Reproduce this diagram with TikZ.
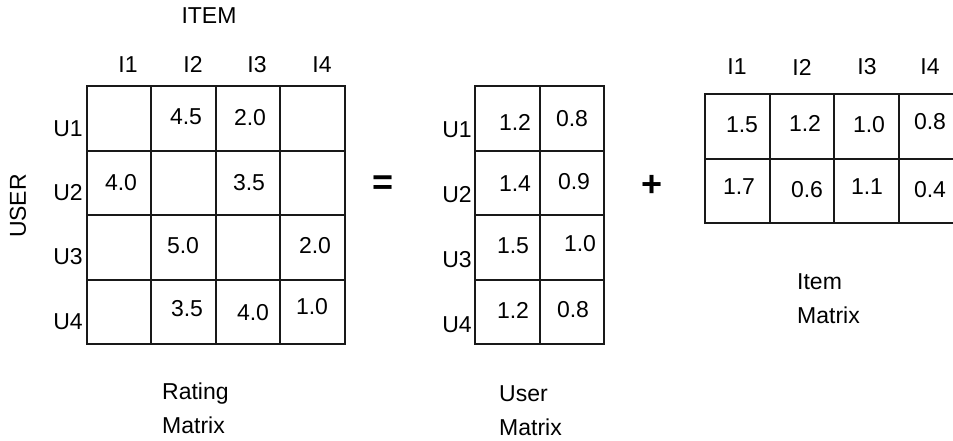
\documentclass[tikz,border=0pt]{standalone}
\usepackage{fontspec}
\setmainfont{Liberation Sans}
\begin{document}
\begin{tikzpicture}[x=1pt,y=-1pt,
  cell/.style={draw=black!90,line width=2pt,minimum size=64.6pt,inner sep=0pt},
  txt/.style={font=\fontsize{23}{34}\selectfont,inner sep=0pt},
  sym/.style={font=\fontsize{36}{40}\selectfont\bfseries,inner sep=0pt}]
\useasboundingbox (0,0) rectangle (953,441);
%\draw[help lines] (0,0) grid (953,441);
% rating matrix
\foreach \r in {1,...,4}
  \foreach \c in {1,...,4}
    \node[cell] (R\r\c) at ({86.5+64.6*(\c-0.5)},{86+64.6*(\r-0.5)}) {};
\node[txt] (item) at (209,15.5) {ITEM};
\node[txt,rotate=90] (user) at (18,206) {USER};
\foreach \c/\x in {1/128,2/193,3/257,4/322}
  \node[txt] (RI\c) at (\x,64.5) {I\c};
\foreach \r/\y in {1/128.5,2/193,3/257,4/322}
  \node[txt] (RU\r) at (68,\y) {U\r};
\node[txt] (r12) at (186,117) {4.5};
\node[txt] (r13) at (250,118) {2.0};
\node[txt] (r21) at (121,183) {4.0};
\node[txt] (r23) at (249,183) {3.5};
\node[txt] (r32) at (183,246) {5.0};
\node[txt] (r34) at (315,246) {2.0};
\node[txt] (r42) at (187,309) {3.5};
\node[txt] (r43) at (253,313) {4.0};
\node[txt] (r44) at (312,307) {1.0};
\node[txt,anchor=north west,align=left] (rcap) at (162,383) {Rating\\Matrix};
\node[sym] (eq) at (382.7,184.7) {=};
% user matrix
\foreach \r in {1,...,4}
  \foreach \c in {1,2}
    \node[cell] (U\r\c) at ({475+64.6*(\c-0.5)},{86+64.6*(\r-0.5)}) {};
\foreach \r/\y in {1/130,2/195,3/260,4/325}
  \node[txt] (UU\r) at (457,\y) {U\r};
\node[txt] (u11) at (515,122) {1.2};
\node[txt] (u12) at (572,119) {0.8};
\node[txt] (u21) at (515,184) {1.4};
\node[txt] (u22) at (574,182) {0.9};
\node[txt] (u31) at (513,246) {1.5};
\node[txt] (u32) at (580,244) {1.0};
\node[txt] (u41) at (513,310) {1.2};
\node[txt] (u42) at (573,310) {0.8};
\node[txt,anchor=north west,align=left] (ucap) at (499,385) {User\\Matrix};
\node[sym] (plus) at (652,186) {+};
% item matrix
\foreach \r in {1,2}
  \foreach \c in {1,...,4}
    \node[cell] (I\r\c) at ({705+64.6*(\c-0.5)},{94+64.6*(\r-0.5)}) {};
\foreach \c/\x in {1/737,2/802,3/867,4/930}
  \node[txt] (II\c) at (\x,67) {I\c};
\node[txt] (i11) at (742,125) {1.5};
\node[txt] (i12) at (805,123) {1.2};
\node[txt] (i13) at (869,125) {1.0};
\node[txt] (i14) at (930,122) {0.8};
\node[txt] (i21) at (739,187) {1.7};
\node[txt] (i22) at (807,190) {0.6};
\node[txt] (i23) at (867,187) {1.1};
\node[txt] (i24) at (930,190) {0.4};
\node[txt,anchor=north west,align=left] (icap) at (797,273) {Item\\Matrix};
\end{tikzpicture}
\end{document}
